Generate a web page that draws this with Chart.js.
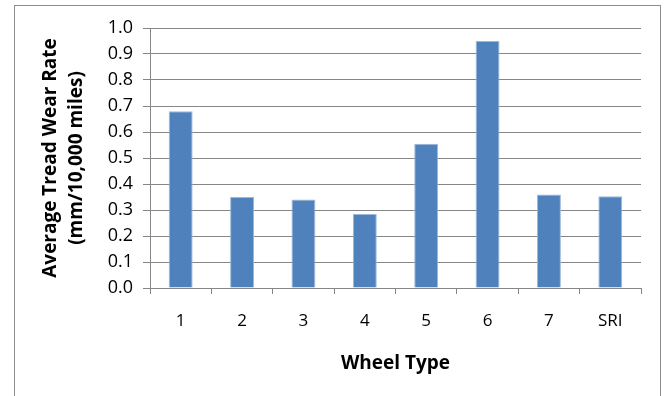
<!DOCTYPE html>
<html>
<head>
<meta charset="utf-8">
<script src="https://cdn.jsdelivr.net/npm/chart.js@4"></script>
<style>
  html, body { margin: 0; padding: 0; background: #fff; }
  canvas { display: block; }
</style>
</head>
<body>
<canvas id="wear" width="670" height="396"></canvas>
<script>
const wheelTypes = ['1', '2', '3', '4', '5', '6', '7', 'SRI'];
const wearRates = [0.68, 0.35, 0.34, 0.285, 0.555, 0.95, 0.36, 0.353];
const yTitle = ['Average Tread Wear Rate', '(mm/10,000 miles)'];
const xTitle = 'Wheel Type';

const axisGrey = '#868686';
const font = 'Open Sans';

// outer frame like the Excel chart area
const frame = {
    id: 'frame',
    beforeDraw(chart) {
        const c = chart.ctx;
        c.save();
        c.strokeStyle = '#8c8c8c';
        c.lineWidth = 1;
        c.strokeRect(14.5, 5.5, 646, 420);
        c.restore();
    }
};

const wearChart = document.getElementById('wear').getContext('2d');
const wear = new Chart(wearChart, {
    type: 'bar',
    data: {
        labels: wheelTypes,
        datasets: [{
            data: wearRates,
            backgroundColor: '#4F81BD',
            borderColor: '#9db8da',
            borderWidth: 1,
            categoryPercentage: 1,
            barPercentage: 0.39
        }]
    },
    options: {
        responsive: false,
        animation: false,
        layout: {
            padding: { left: 0, right: 29, top: 28, bottom: 0 }
        },
        scales: {
            x: {
                afterFit: (s) => { s.height = 108; },
                grid: {
                    offset: true,
                    drawOnChartArea: false,
                    drawTicks: true,
                    tickLength: 6,
                    color: axisGrey
                },
                border: { color: axisGrey },
                ticks: {
                    color: '#000',
                    padding: 17,
                    font: { family: font, size: 17 }
                },
                title: {
                    display: true,
                    text: xTitle,
                    color: '#000',
                    padding: { bottom: 21 },
                    font: { family: font, size: 19, weight: 'bold' }
                }
            },
            y: {
                min: 0,
                max: 1,
                afterFit: (s) => { s.width = 150; },
                grid: {
                    color: axisGrey,
                    tickLength: 7
                },
                border: { color: axisGrey },
                ticks: {
                    stepSize: 0.1,
                    color: '#000',
                    padding: 10,
                    font: { family: font, size: 18 },
                    callback: (v) => v.toFixed(1)
                },
                title: {
                    display: true,
                    text: yTitle,
                    color: '#000',
                    padding: { top: 38 },
                    font: { family: font, size: 19, weight: 'bold', lineHeight: 1.37 }
                }
            }
        },
        plugins: {
            legend: { display: false },
            tooltip: { enabled: false }
        }
    },
    plugins: [frame]
});
</script>
</body>
</html>
